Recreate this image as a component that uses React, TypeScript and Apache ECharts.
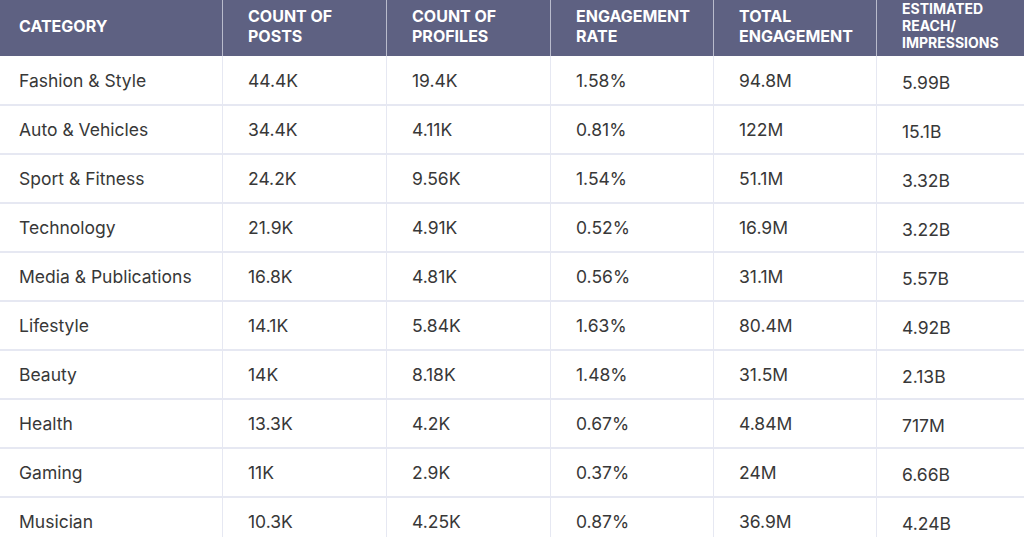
import React, { useEffect, useRef } from "react";
import * as echarts from "echarts";

const headers = [
  "CATEGORY",
  "COUNT OF\nPOSTS",
  "COUNT OF\nPROFILES",
  "ENGAGEMENT\nRATE",
  "TOTAL\nENGAGEMENT",
  "ESTIMATED\nREACH/\nIMPRESSIONS",
];
const categories = [
  "Fashion & Style",
  "Auto & Vehicles",
  "Sport & Fitness",
  "Technology",
  "Media & Publications",
  "Lifestyle",
  "Beauty",
  "Health",
  "Gaming",
  "Musician",
];
const postCounts = ["44.4K", "34.4K", "24.2K", "21.9K", "16.8K", "14.1K", "14K", "13.3K", "11K", "10.3K"];
const profileCounts = ["19.4K", "4.11K", "9.56K", "4.91K", "4.81K", "5.84K", "8.18K", "4.2K", "2.9K", "4.25K"];
const engagementRates = ["1.58%", "0.81%", "1.54%", "0.52%", "0.56%", "1.63%", "1.48%", "0.67%", "0.37%", "0.87%"];
const totalEngagement = ["94.8M", "122M", "51.1M", "16.9M", "31.1M", "80.4M", "31.5M", "4.84M", "24M", "36.9M"];
const estimatedReach = ["5.99B", "15.1B", "3.32B", "3.22B", "5.57B", "4.92B", "2.13B", "717M", "6.66B", "4.24B"];

const columns = [categories, postCounts, profileCounts, engagementRates, totalEngagement, estimatedReach];

// layout (pixels)
const colEdges = [0, 222, 386, 550, 713, 876, 1040];
const headerH = 56;
const rowH = 49;
const FONT = "Inter, 'Open Sans', sans-serif";
const CANVAS_W = 1040;
const CANVAS_H = headerH + rowH * 10;

export default function App() {
  const ref = useRef<HTMLDivElement>(null);
  useEffect(() => {
    if (!ref.current) return;
    const chart = echarts.init(ref.current, null, { renderer: "svg" });

    const headerGraphics: any[] = [
      { type: "rect", shape: { x: 0, y: 0, width: CANVAS_W, height: headerH }, style: { fill: "#5e6182" } },
    ];
    headers.forEach((h, i) => {
      const last = i === headers.length - 1;
      headerGraphics.push({
        type: "text",
        x: colEdges[i] + (i === 0 ? 19 : 26),
        y: last ? 25.5 : 26,
        style: {
          text: h,
          fill: "#ffffff",
          font: `bold ${last ? 14 : 16}px ${FONT}`,
          lineHeight: last ? 17 : 20,
          verticalAlign: "middle",
          align: "left",
        },
      });
      if (i > 0) {
        headerGraphics.push({
          type: "line",
          shape: { x1: colEdges[i] + 0.5, y1: 0, x2: colEdges[i] + 0.5, y2: headerH },
          style: { stroke: "#b9bbcc", lineWidth: 1 },
        });
      }
    });

    chart.setOption({
      animation: false,
      grid: { left: 0, top: headerH, width: CANVAS_W, height: rowH * categories.length },
      xAxis: { type: "value", min: 0, max: CANVAS_W, show: false },
      yAxis: { type: "category", data: categories, inverse: true, show: false },
      graphic: headerGraphics,
      series: [
        {
          type: "custom",
          data: categories.map((_, i) => [0, i]),
          clip: false,
          renderItem: (params: any, api: any) => {
            const row = api.value(1);
            const center = api.coord([0, row]);
            const h = api.size([0, 1])[1];
            const cy = center[1];
            const top = cy - h / 2;
            const bottom = cy + h / 2;
            const children: any[] = [];
            columns.forEach((col, c) => {
              const x0 = api.coord([colEdges[c], row])[0];
              children.push({
                type: "text",
                x: x0 + (c === 0 ? 19 : 26),
                y: cy + (c === columns.length - 1 ? 2 : -0.5),
                style: {
                  text: col[row],
                  fill: "#383838",
                  font: `400 17.5px ${FONT}`,
                  verticalAlign: "middle",
                  align: "left",
                },
              });
              if (c > 0) {
                children.push({
                  type: "line",
                  shape: { x1: x0 + 0.5, y1: top, x2: x0 + 0.5, y2: bottom },
                  style: { stroke: "#e6e8f2", lineWidth: 1 },
                });
              }
            });
            children.push({
              type: "line",
              shape: { x1: 0, y1: bottom, x2: CANVAS_W, y2: bottom },
              style: { stroke: "#e6e8f2", lineWidth: 2 },
            });
            return { type: "group", children };
          },
        },
      ],
    });
    return () => chart.dispose();
  }, []);
  return (
    <div
      style={{
        position: "fixed",
        left: 0,
        top: 0,
        width: 1024,
        height: 537,
        overflow: "hidden",
        background: "#ffffff",
      }}
    >
      <div ref={ref} style={{ width: CANVAS_W, height: CANVAS_H }} />
    </div>
  );
}
